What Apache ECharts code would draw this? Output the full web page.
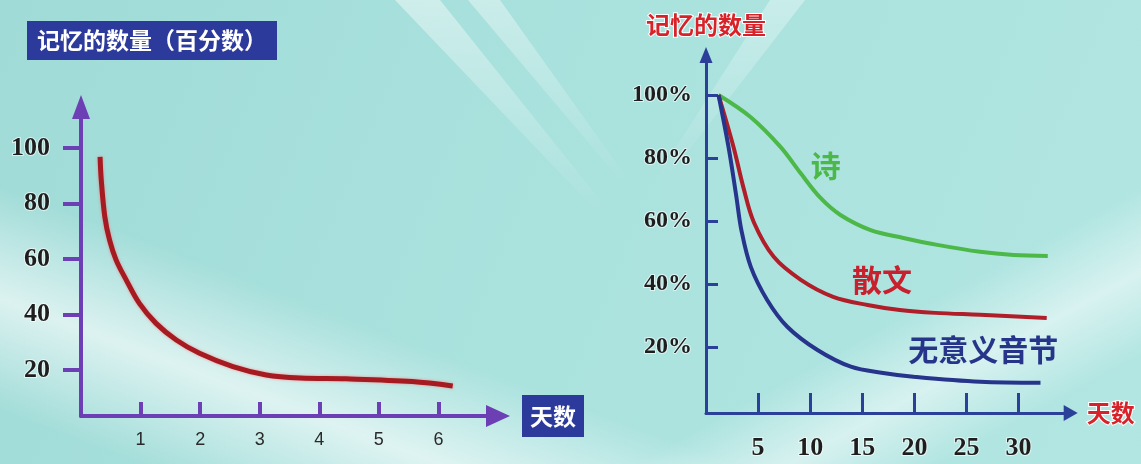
<!DOCTYPE html>
<html><head><meta charset="utf-8">
<script src="https://cdn.jsdelivr.net/npm/echarts@6/dist/echarts.min.js"></script>
<style>html,body{margin:0;padding:0;background:#a8e1dd}#c{width:1141px;height:464px}</style>
</head><body><div id="c"></div>
<script>
// ---- data (left panel: 艾宾浩斯遗忘曲线) ----
const leftDays   = [0.32,0.34,0.40,0.48,0.59,0.76,0.98,1.26,1.60,1.99,2.55,3.11,3.68,4.45,5.56,6.24];
const leftValues = [96.8,88.5,75.2,66.8,59.6,52.4,44.0,36.8,30.8,26.0,21.2,18.2,17.1,16.8,15.8,14.2];
const leftXTicks = [1,2,3,4,5,6];
const leftYTicks = [20,40,60,80,100];

// ---- data (right panel) ----
const poemDays    = [1.2,4.27,7.15,9.07,10.99,12.9,15.8,18.95,22.2,26.3,29.5,32.8];
const poemValues  = [100,93.0,83.5,75.2,67.3,61.9,57.1,54.6,52.4,50.2,49.2,48.9];
const proseDays   = [1.2,2.64,3.6,4.6,6.5,9.1,12.2,15.5,18.6,22,26.3,32.7];
const proseValues = [100,83.5,70.5,59.5,48.6,41.3,35.9,33.3,31.7,30.8,30.2,29.2];
const syllDays    = [1.2,2.16,2.9,3.4,4.3,5.87,7.8,10.7,13.9,17.0,19.9,26.3,32.1];
const syllValues  = [100,83.5,68,57,45.4,34.9,26.4,19.0,13.7,11.7,10.5,8.9,8.6];
const rightXTicks = [5,10,15,20,25,30];
const rightYTicks = [20,40,60,80,100];

const seriesNames = ['诗','散文','无意义音节'];
const labelPos = [[11.5,77.5],[16.9,41.5],[26.6,19.0]];

const zip = (a,b) => a.map((v,i)=>[v,b[i]]);
const chart = echarts.init(document.getElementById('c'), null, {renderer:'canvas'});

const W = 'rgba(255,255,255,';
function band(cx, cy, len, w, rot, alpha) {
  return { type:'rect', silent:true, z:-5, x:cx, y:cy, rotation:rot,
    shape:{x:-len/2, y:-w/2, width:len, height:w},
    style:{fill:new echarts.graphic.LinearGradient(0,0,0,1,[
      {offset:0,color:W+'0)'},{offset:0.5,color:W+alpha+')'},{offset:1,color:W+'0)'}])}};
}
function ray(pts, alpha) {
  return { type:'polygon', silent:true, z:-5, shape:{points:pts},
    style:{fill:new echarts.graphic.LinearGradient(0,0,0,1,[
      {offset:0,color:W+alpha+')'},{offset:1,color:W+'0)'}])}};
}

const serifNum = {fontFamily:'Liberation Serif', fontWeight:'bold', color:'#1e1e1e',
  textBorderColor:'rgba(255,255,255,0.6)', textBorderWidth:2};

const option = {
  animation:false,
  backgroundColor:'#a8e1dd',
  graphic:{ elements:[
    {type:'rect', silent:true, z:-10, shape:{x:0,y:0,width:1141,height:464},
     style:{fill:new echarts.graphic.LinearGradient(0,0,1,1,[
       {offset:0,color:'#a0dbd7'},{offset:0.5,color:'#aae2de'},{offset:1,color:'#b2e6e2'}])}},
    band(230,385,1000,210,-0.36,0.62),
    band(980,360,760,150,0.5,0.5),
    ray([[395,0],[440,0],[612,215],[600,215]],0.45),
    ray([[468,0],[500,0],[632,185],[624,185]],0.4),
    ray([[770,0],[805,0],[662,185],[652,185]],0.35)
  ]},
  title:[{
    text:'记忆的数量（百分数）', left:27, top:21,
    backgroundColor:'#2c3b9b', padding:[8,10],
    textStyle:{color:'#fff', fontSize:23, fontWeight:'bold', fontFamily:'Noto Sans CJK SC'}
  }],
  grid:[
    {left:81, top:107, width:417, height:309, outerBoundsMode:'none', containLabel:false},
    {left:706, top:55, width:364.7, height:358, outerBoundsMode:'none', containLabel:false}
  ],
  xAxis:[
    {type:'value', gridIndex:0, min:0, max:7,
     name:'天数', nameLocation:'end', nameGap:24, nameMoveOverlap:false,
     nameTextStyle:{color:'#fff', backgroundColor:'#2c3b9b', padding:[10,8,9,8],
       fontSize:23, fontWeight:'bold', fontFamily:'Noto Sans CJK SC'},
     axisLine:{show:true, onZero:false, symbol:['none','triangle'], symbolSize:[22,24],
       lineStyle:{color:'#6c3fb4', width:4}},
     axisTick:{show:true, inside:true, length:14, customValues:leftXTicks,
       lineStyle:{color:'#6c3fb4', width:4}},
     axisLabel:{show:true, customValues:leftXTicks, margin:15, fontSize:18,
       fontFamily:'Liberation Sans', color:'#2a2a2a'},
     splitLine:{show:false}},
    {type:'value', gridIndex:1, min:0, max:35,
     name:'天数', nameLocation:'end', nameGap:16, nameMoveOverlap:false,
     nameTextStyle:{color:'#d8222a', fontSize:24, fontWeight:'bold', fontFamily:'Noto Sans CJK SC',
       textBorderColor:'#ffffff', textBorderWidth:2},
     axisLine:{show:true, onZero:false, symbol:['none','triangle'], symbolSize:[16,14],
       lineStyle:{color:'#2b4199', width:3}},
     axisTick:{show:true, inside:true, length:20, customValues:rightXTicks,
       lineStyle:{color:'#2b4199', width:3}},
     axisLabel:{show:true, customValues:rightXTicks, margin:22, fontSize:26, ...serifNum},
     splitLine:{show:false}}
  ],
  yAxis:[
    {type:'value', gridIndex:0, min:3.4, max:114.8,
     axisLine:{show:true, onZero:false, symbol:['none','triangle'], symbolSize:[18,24],
       lineStyle:{color:'#6c3fb4', width:4}},
     axisTick:{show:true, inside:false, length:18, customValues:leftYTicks,
       lineStyle:{color:'#6c3fb4', width:4}},
     axisLabel:{show:true, customValues:leftYTicks, margin:31, fontSize:26, ...serifNum},
     splitLine:{show:false}},
    {type:'value', gridIndex:1, min:-1, max:112.7,
     name:'记忆的数量', nameLocation:'end', nameGap:18, nameMoveOverlap:false,
     nameTextStyle:{color:'#d8222a', fontSize:24, fontWeight:'bold', fontFamily:'Noto Sans CJK SC',
       textBorderColor:'#ffffff', textBorderWidth:2},
     axisLine:{show:true, onZero:false, symbol:['none','triangle'], symbolSize:[13,16],
       lineStyle:{color:'#2b4199', width:3}},
     axisTick:{show:true, inside:true, length:12, customValues:rightYTicks,
       lineStyle:{color:'#2b4199', width:3}},
     axisLabel:{show:true, customValues:rightYTicks, margin:14, fontSize:24,
       formatter:'{value}%', ...serifNum},
     splitLine:{show:false}}
  ],
  series:[
    {type:'line', xAxisIndex:0, yAxisIndex:0, data:zip(leftDays,leftValues),
     smooth:0.35, showSymbol:false, symbol:'none',
     lineStyle:{color:'#a51b21', width:5, shadowColor:'rgba(255,90,90,0.6)', shadowBlur:3}},
    {type:'line', name:seriesNames[0], xAxisIndex:1, yAxisIndex:1, data:zip(poemDays,poemValues),
     smooth:0.35, showSymbol:false, symbol:'none',
     lineStyle:{color:'#4cb847', width:4},
     markPoint:{symbol:'circle', symbolSize:0, data:[{coord:labelPos[0]}],
       label:{show:true, position:'inside', formatter:seriesNames[0], color:'#4cb847',
         fontSize:30, fontWeight:'bold', fontFamily:'Noto Sans CJK SC'}}},
    {type:'line', name:seriesNames[1], xAxisIndex:1, yAxisIndex:1, data:zip(proseDays,proseValues),
     smooth:0.35, showSymbol:false, symbol:'none',
     lineStyle:{color:'#b01e2a', width:4},
     markPoint:{symbol:'circle', symbolSize:0, data:[{coord:labelPos[1]}],
       label:{show:true, position:'inside', formatter:seriesNames[1], color:'#c8202c',
         fontSize:30, fontWeight:'bold', fontFamily:'Noto Sans CJK SC'}}},
    {type:'line', name:seriesNames[2], xAxisIndex:1, yAxisIndex:1, data:zip(syllDays,syllValues),
     smooth:0.35, showSymbol:false, symbol:'none',
     lineStyle:{color:'#26348c', width:4},
     markPoint:{symbol:'circle', symbolSize:0, data:[{coord:labelPos[2]}],
       label:{show:true, position:'inside', formatter:seriesNames[2], color:'#26358a',
         fontSize:30, fontWeight:'bold', fontFamily:'Noto Sans CJK SC'}}}
  ]
};
chart.setOption(option);
</script>
</body></html>
